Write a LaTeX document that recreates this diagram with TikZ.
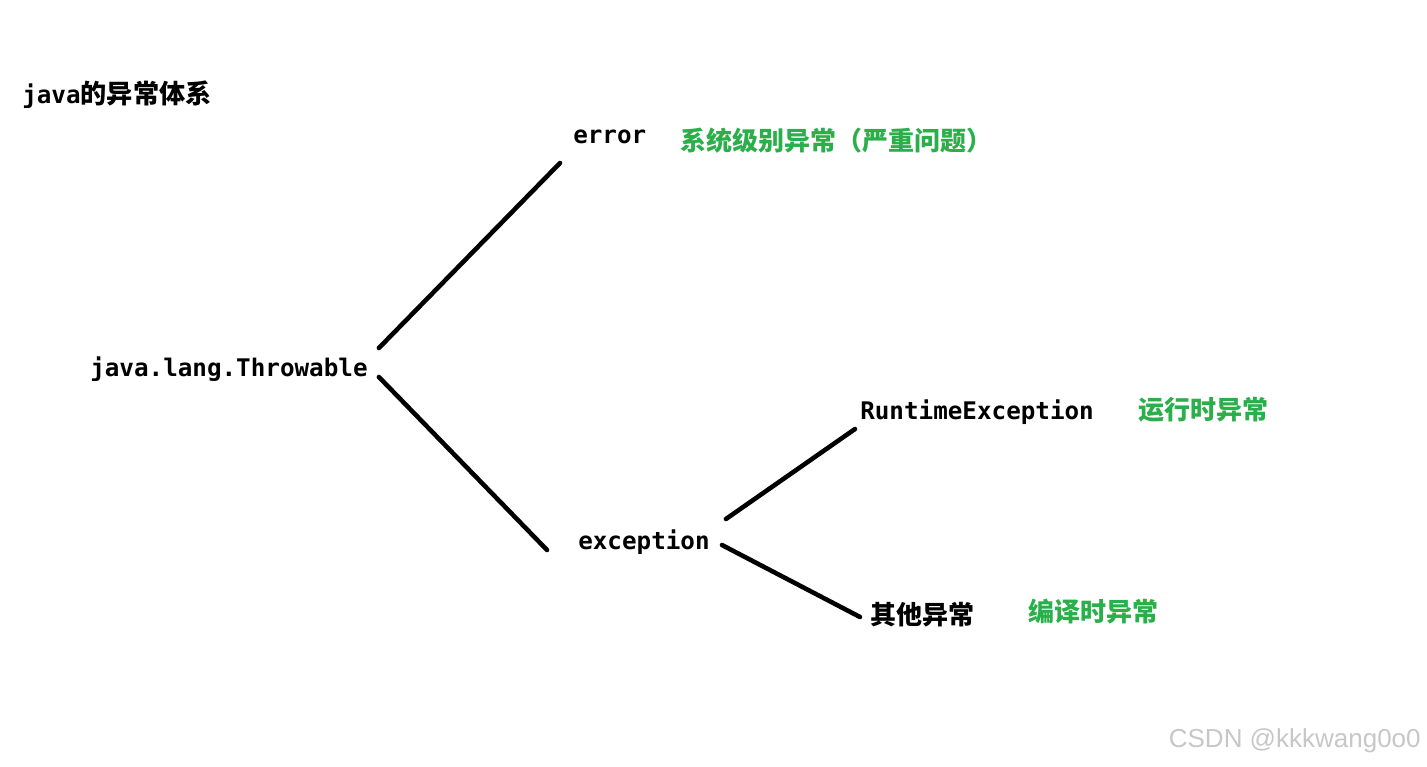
\documentclass[tikz,border=0pt]{standalone}
\usepackage{fontspec}
\setmonofont{DejaVu Sans Mono}
\newfontfamily\cjk{Noto Sans CJK SC}
\newfontfamily\wmfont{Liberation Sans}
\usetikzlibrary{calc}
\definecolor{notegreen}{RGB}{43,175,74}

\begin{document}
\begin{tikzpicture}[x=0.02cm, y=-0.02cm, line width=2.6pt, line cap=round,
    cls/.style = {inner sep=0pt, anchor=west, font=\ttfamily\bfseries\fontsize{13.8}{16}\selectfont},
    cn/.style = {inner sep=0pt, anchor=west, font=\cjk\bfseries\fontsize{14.8}{17}\selectfont},
    note/.style = {cn, text=notegreen}]
	\useasboundingbox (0,0) rectangle (1427,767);
	\node[cls] (title) at (20,95) {java{\cjk\fontsize{14.9}{17}\selectfont 的异常体系}};
	\node[cls] (thr) at (88,369) {java.lang.Throwable};
	\node[cls] (err) at (571,137) {error};
	\node[note] (errnote) at (678,141) {系统级别异常（严重问题）};
	\node[cls] (exc) at (576,542) {exception};
	\node[cls] (rte) at (858,412) {RuntimeException};
	\node[note] (rtenote) at (1136,410) {运行时异常};
	\node[cn] (oth) at (868,615) {其他异常};
	\node[note] (othnote) at (1026,612) {编译时异常};
	\node[inner sep=0pt, anchor=east, text=black!22, font=\wmfont\fontsize{14.8}{17}\selectfont] (mark) at (1423,741) {CSDN @kkkwang0o0};
	\draw ($(thr.east)+(9,-21)$) -- ($(err.west)+(-11,26)$);
	\draw ($(thr.east)+(9,8)$) -- ($(exc.west)+(-29,8)$);
	\draw ($(exc.east)+(14,-23)$) -- ($(rte.west)+(-3,17)$);
	\draw ($(exc.east)+(10,3)$) -- ($(oth.west)+(-8,2)$);
\end{tikzpicture}
\end{document}
